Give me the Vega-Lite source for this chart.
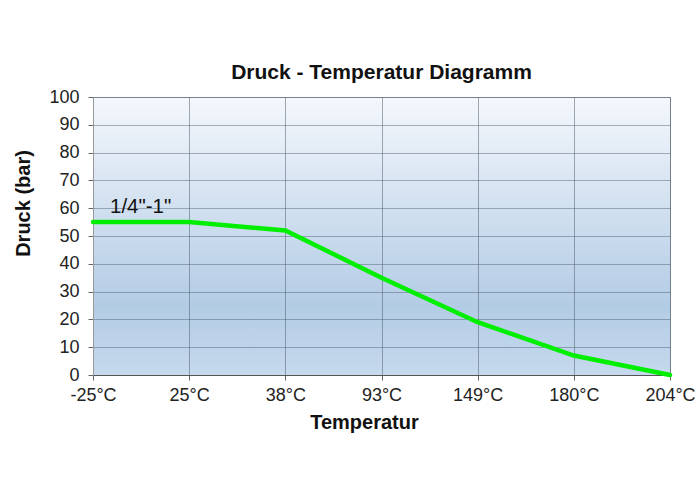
{
  "$schema": "https://vega.github.io/schema/vega-lite/v6.json",
  "width": 577,
  "height": 278,
  "autosize": {"type": "none"},
  "padding": {"left": 93, "top": 97, "right": 25, "bottom": 107},
  "background": "white",
  "config": {
    "font": "Liberation Sans",
    "view": {
      "stroke": "#9aa4ad",
      "strokeWidth": 1,
      "fill": {
        "x1": 0, "y1": 0, "x2": 0, "y2": 1,
        "gradient": "linear",
        "stops": [
          {"offset": 0, "color": "#f4f7fc"},
          {"offset": 0.75, "color": "#b3cce5"},
          {"offset": 1, "color": "#c6d9ed"}
        ]
      }
    },
    "axis": {
      "labelFont": "Liberation Sans",
      "titleFont": "Liberation Sans",
      "labelColor": "#222",
      "titleColor": "#111",
      "labelFontSize": 18,
      "titleFontSize": 20,
      "titleFontWeight": "bold",
      "gridColor": "#4a5a6a",
      "gridOpacity": 0.45,
      "tickColor": "#666",
      "domainColor": "#555"
    }
  },
  "title": {
    "text": "Druck - Temperatur Diagramm",
    "font": "Liberation Sans",
    "fontSize": 21,
    "fontWeight": "bold",
    "color": "#111",
    "offset": 5,
    "anchor": "middle"
  },
  "data": {
    "values": [
      {"temp": "-25°C", "druck": 55, "label": "1/4\"-1\""},
      {"temp": "25°C", "druck": 55, "label": ""},
      {"temp": "38°C", "druck": 52, "label": ""},
      {"temp": "93°C", "druck": 35, "label": ""},
      {"temp": "149°C", "druck": 19, "label": ""},
      {"temp": "180°C", "druck": 7, "label": ""},
      {"temp": "204°C", "druck": 0, "label": ""}
    ]
  },
  "encoding": {
    "x": {
      "field": "temp",
      "type": "ordinal",
      "sort": null,
      "scale": {"type": "point", "padding": 0},
      "axis": {
        "title": "Temperatur",
        "labelAngle": 0,
        "labelPadding": 6,
        "labelFontSize": 18,
        "tickSize": 5,
        "titleX": 271,
        "titleY": 37,
        "grid": true,
        "gridOpacity": 0.5
      }
    },
    "y": {
      "field": "druck",
      "type": "quantitative",
      "scale": {"domain": [0, 100], "nice": false},
      "axis": {
        "title": "Druck (bar)",
        "values": [0, 10, 20, 30, 40, 50, 60, 70, 80, 90, 100],
        "labelOverlap": false,
        "tickSize": 5,
        "labelPadding": 9,
        "titleX": -60,
        "titleY": 106,
        "domainColor": "#999"
      }
    }
  },
  "layer": [
    {
      "mark": {"type": "line", "color": "#00ee00", "strokeWidth": 4.5, "strokeCap": "round"}
    },
    {
      "transform": [{"filter": "datum.label != ''"}],
      "mark": {"type": "text", "align": "left", "baseline": "alphabetic", "dx": 17, "dy": -9, "fontSize": 20.5, "font": "Liberation Sans", "color": "#111"},
      "encoding": {
        "text": {"field": "label"}
      }
    }
  ]
}
